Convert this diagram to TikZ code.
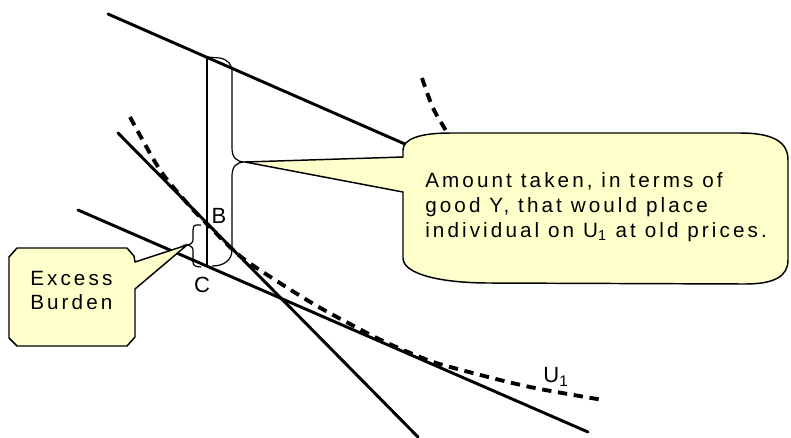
\documentclass[tikz,border=0pt]{standalone}
\usepackage{fontspec}
\setmainfont{Liberation Sans}
\newfontfamily\calfont{Liberation Sans}[LetterSpace=15]
\usetikzlibrary{calc}
\definecolor{callfill}{RGB}{255,255,204}
\tikzset{
  bline/.style={line width=2.2pt, line cap=round},
  icrv/.style={line width=2.9pt, dash pattern=on 7pt off 5pt},
  brc/.style={line width=0.9pt},
  call/.style={draw, line width=1.1pt, fill=callfill, line join=round},
  ctxt/.style={font=\calfont\fontsize{15.5}{18.75}\selectfont, inner sep=0pt, anchor=base west},
  plab/.style={font=\fontsize{16.5}{16.5}\selectfont, inner sep=0pt},
}

\begin{document}
\begin{tikzpicture}[x=0.75pt, y=-0.75pt]
\useasboundingbox (0,0) rectangle (791,437);
%---- budget lines
\coordinate (t0) at (108,14);  \coordinate (t1) at (430,155);
\coordinate (s0) at (118,133); \coordinate (s1) at (418,437);
\coordinate (l0) at (78,210);  \coordinate (l1) at (588,432);
\draw[bline] (t0) -- (t1);
\draw[bline] (s0) -- (s1);
\draw[bline] (l0) -- (l1);
%---- indifference curves
\draw[icrv] plot[smooth] coordinates {(130,117) (160,170) (187,203) (205,222)
  (240,256) (283,285) (317,306) (350,324) (383,341) (420,357) (443,365)
  (500,380) (540,389) (603,400)};
\draw[icrv] plot[smooth] coordinates {(422,78) (433,108) (448,134) (456,148)};
%---- braces
\draw[brc] (207,57) -- (207,266);
\draw[brc] (207,57) -- (220,58) .. controls (228,60) and (232,64) .. (232,72)
  -- (232,148) .. controls (232,157) and (236,162) .. (245,162)
  .. controls (236,162) and (232,167) .. (232,176)
  -- (232,250) .. controls (232,260) and (224,266) .. (212,266);
\draw[brc] (201,225) -- (196,225) .. controls (194,225) and (193,227) .. (193,230)
  -- (193,240) .. controls (193,243) and (190,245) .. (186,245)
  .. controls (190,245) and (193,247) .. (193,250)
  -- (193,262) .. controls (193,265) and (195,267) .. (201,267);
%---- point labels
\node[plab] (ptB) at (219,216) {B};
\node[plab] (ptC) at (202,285) {C};
\node[plab] (uone) at (556,377) {U\textsubscript{1}};
%---- callout : amount taken
\draw[call] (245,162) -- (403,157) -- (403,150)
  .. controls (403,139) and (420,133) .. (450,133) -- (740,133)
  .. controls (775,133) and (788,143) .. (788,160) -- (788,260)
  .. controls (788,276) and (775,284) .. (745,284) -- (490,283)
  .. controls (440,283) and (403,274) .. (403,258) -- (403,192) -- cycle;
\node[ctxt] (amt1) at (425,187) {Amount taken, in terms of};
\node[ctxt] (amt2) at (425,212) {good Y, that would place};
\node[ctxt] (amt3) at (425,237) {individual on U\textsubscript{1} at old prices.};
%---- callout : excess burden
\draw[call] (187,245) -- (135,262) -- (134,256) -- (127,248) -- (17,248)
  -- (9,257) -- (9,338) -- (17,346) -- (127,346) -- (135,337) -- (135,289) -- cycle;
\node[ctxt] (ex1) at (30,285) {Excess};
\node[ctxt] (ex2) at (30,309) {Burden};
\end{tikzpicture}
\end{document}
